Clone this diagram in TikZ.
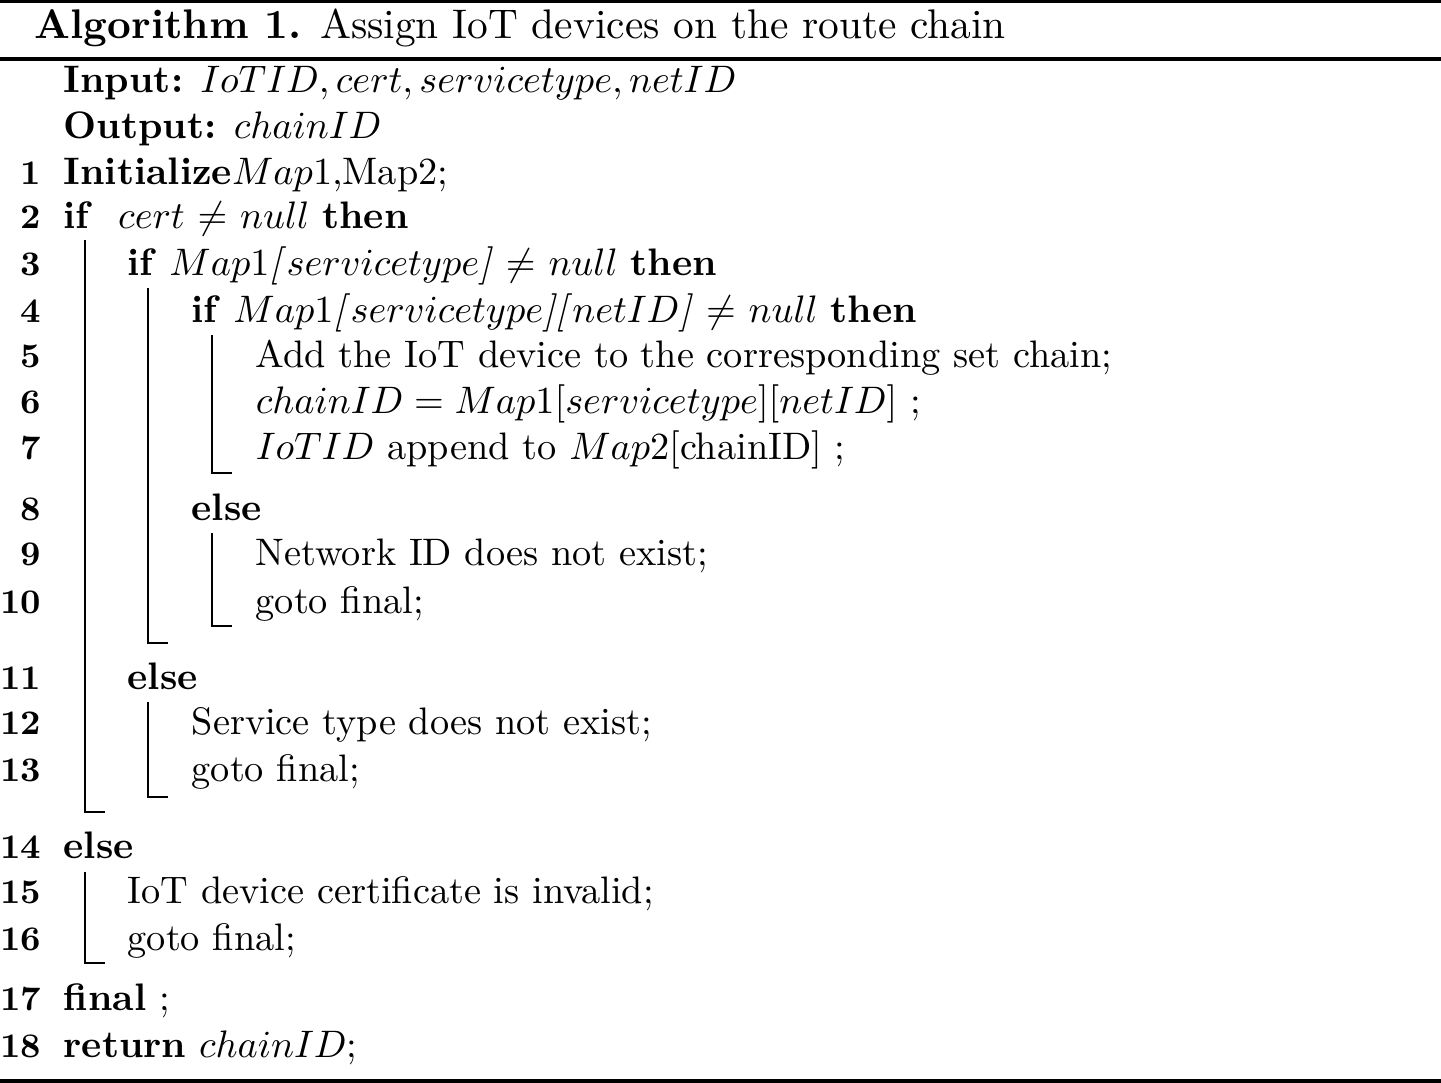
\documentclass[tikz,border=0pt]{standalone}
\usepackage{amsmath}
\tikzset{
  algline/.style={anchor=base west, inner sep=0pt},
  lineno/.style={anchor=base east, inner sep=0pt, font=\small\bfseries},
  blockbar/.style={line width=0.5pt},
  algrule/.style={line width=0.9pt}
}
\begin{document}
\begin{tikzpicture}[x=0.261pt,y=-0.261pt]
\useasboundingbox (0,0) rectangle (1441,1083);
% rules of the float
\draw[algrule] (0,1.5) -- (1441,1.5);
\draw[algrule] (0,59) -- (1441,59);
\draw[algrule] (0,1081) -- (1441,1081);
% caption
\node[algline, font=\fontsize{10.8}{13}\selectfont] (title) at (34,38) {\textbf{Algorithm 1.} Assign IoT devices on the route chain};
\node[algline] (input) at (63,92) {\textbf{Input:} $IoTID, cert, servicetype, netID$};
\node[algline] (output) at (63,138) {\textbf{Output:} $chainID$};
% line numbers
\node[lineno] (n1) at (42,184) {1};
\node[lineno] (n2) at (42,228) {2};
\node[lineno] (n3) at (42,275) {3};
\node[lineno] (n4) at (42,322) {4};
\node[lineno] (n5) at (42,367) {5};
\node[lineno] (n6) at (42,413) {6};
\node[lineno] (n7) at (42,459) {7};
\node[lineno] (n8) at (42,520) {8};
\node[lineno] (n9) at (42,565) {9};
\node[lineno] (n10) at (42,613) {10};
\node[lineno] (n11) at (42,689) {11};
\node[lineno] (n12) at (42,734) {12};
\node[lineno] (n13) at (42,781) {13};
\node[lineno] (n14) at (42,858) {14};
\node[lineno] (n15) at (42,903) {15};
\node[lineno] (n16) at (42,950) {16};
\node[lineno] (n17) at (42,1010) {17};
\node[lineno] (n18) at (42,1057) {18};
% body
\node[algline] (l1) at (63,184) {\textbf{Initialize}$Map1$,Map2;};
\node[algline] (l2) at (63,228) {\textbf{if}\ \ $cert$ $\neq$ $null$ \textbf{then}};
\node[algline] (l3) at (127,275) {\textbf{if} $Map1$\textit{[}$servicetype$\textit{]} $\neq$ $null$ \textbf{then}};
\node[algline] (l4) at (191,322) {\textbf{if} $Map1$\textit{[}$servicetype$\textit{][}$netID$\textit{]} $\neq$ $null$ \textbf{then}};
\node[algline] (l5) at (255,367) {Add the IoT device to the corresponding set chain;};
\node[algline] (l6) at (255,413) {$chainID = Map1[servicetype][netID]$ ;};
\node[algline] (l7) at (255,459) {$IoTID$ append to $Map2$[chainID] ;};
\node[algline] (l8) at (191,520) {\textbf{else}};
\node[algline] (l9) at (255,565) {Network ID does not exist;};
\node[algline] (l10) at (255,613) {goto final;};
\node[algline] (l11) at (127,689) {\textbf{else}};
\node[algline] (l12) at (191,734) {Service type does not exist;};
\node[algline] (l13) at (191,781) {goto final;};
\node[algline] (l14) at (63,858) {\textbf{else}};
\node[algline] (l15) at (127,903) {IoT device certificate is invalid;};
\node[algline] (l16) at (127,950) {goto final;};
\node[algline] (l17) at (63,1010) {\textbf{final} ;};
\node[algline] (l18) at (63,1057) {\textbf{return} $chainID$;};
% block bars
\draw[blockbar] (85,240) -- (85,812) -- (105,812);
\draw[blockbar] (148,288) -- (148,643) -- (168,643);
\draw[blockbar] (212,335) -- (212,473) -- (232,473);
\draw[blockbar] (212,533) -- (212,626) -- (232,626);
\draw[blockbar] (148,702) -- (148,797) -- (168,797);
\draw[blockbar] (85,872) -- (85,963) -- (105,963);
\end{tikzpicture}
\end{document}
